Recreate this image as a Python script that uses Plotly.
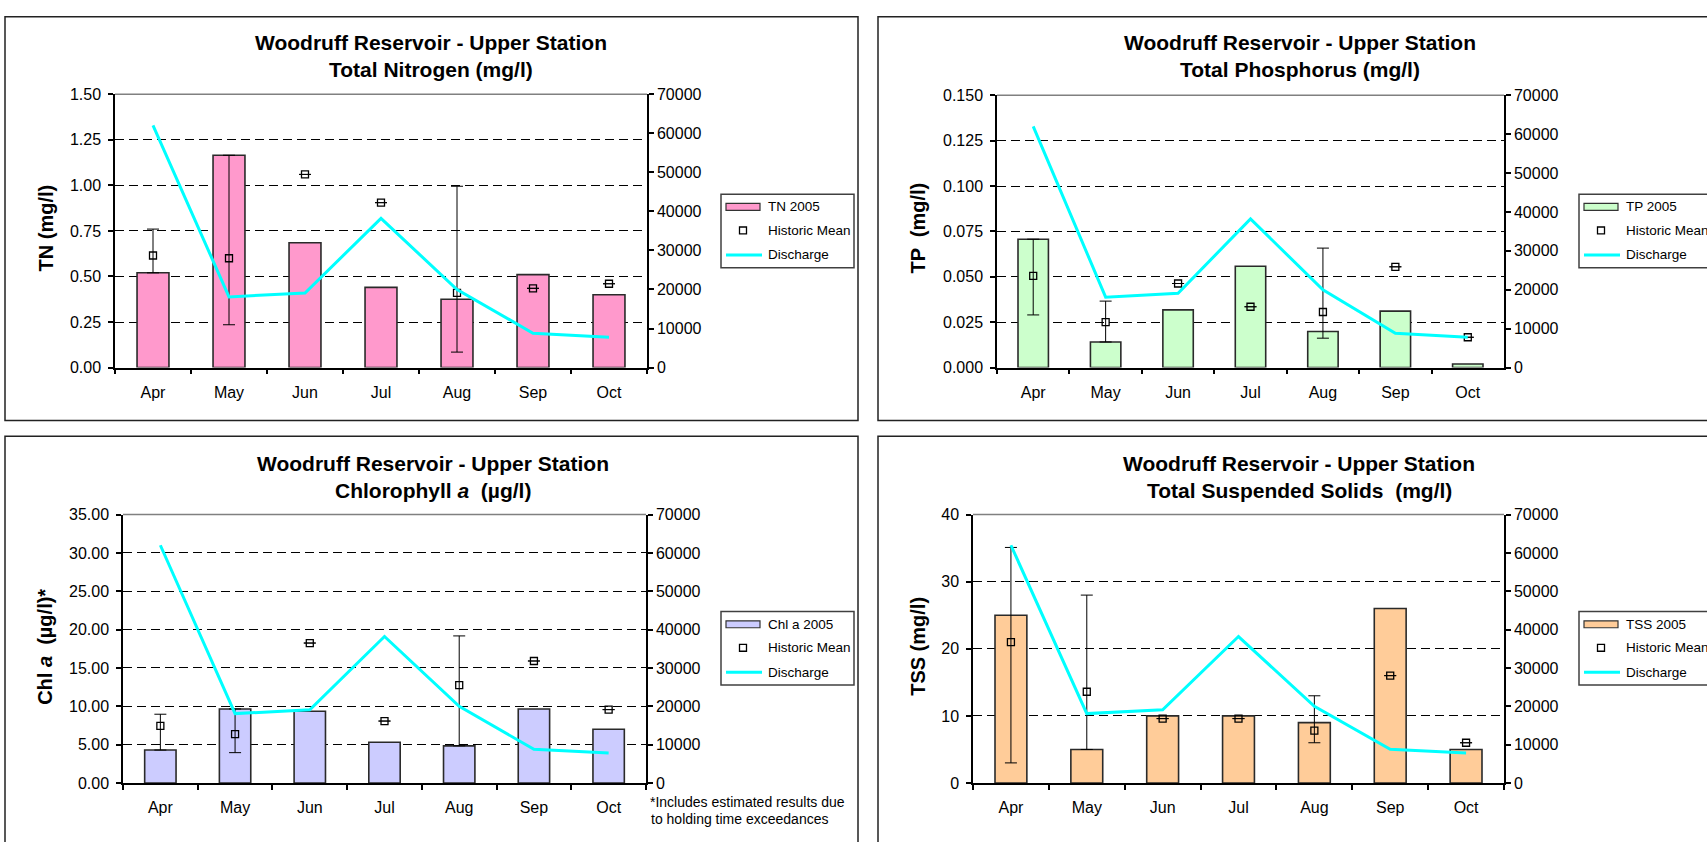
import plotly.graph_objects as go

W, H = 1707, 842
FONT = "Liberation Sans, Arial, Helvetica, sans-serif"

# ---- data -------------------------------------------------------------
months = ["Apr", "May", "Jun", "Jul", "Aug", "Sep", "Oct"]
discharge = [62000, 18100, 19100, 38200, 20000, 8800, 7800]

tn_2005 = [0.52, 1.165, 0.685, 0.44, 0.375, 0.51, 0.40]
tn_hist_mean = [0.615, 0.60, 1.06, 0.905, 0.41, 0.435, 0.46]
tn_hist_max = [0.76, 1.165, None, None, 0.995, None, None]
tn_hist_min = [0.52, 0.235, None, None, 0.085, None, None]

tp_2005 = [0.0707, 0.0141, 0.0318, 0.0558, 0.0199, 0.0311, 0.0020]
tp_hist_mean = [0.0505, 0.0250, 0.0463, 0.0335, 0.0306, 0.0555, 0.0167]
tp_hist_max = [0.0707, 0.0366, None, None, 0.0658, None, None]
tp_hist_min = [0.0290, 0.0141, None, None, 0.0162, None, None]

chl_2005 = [4.30, 9.66, 9.36, 5.32, 4.85, 9.66, 7.02]
chl_hist_mean = [7.44, 6.38, 18.25, 8.08, 12.76, 15.91, 9.57]
chl_hist_max = [8.97, 9.66, None, None, 19.18, None, None]
chl_hist_min = [4.30, 3.96, None, None, 4.85, None, None]

tss_2005 = [25, 5, 10, 10, 9, 26, 5]
tss_hist_mean = [21.0, 13.6, 9.6, 9.6, 7.8, 16.0, 6.0]
tss_hist_max = [35.1, 28.0, None, None, 13.0, None, None]
tss_hist_min = [3.0, 5.0, None, None, 6.0, None, None]

# ---- panel configuration ---------------------------------------------
panels = [
    dict(bars=tn_2005, mean=tn_hist_mean, hi=tn_hist_max, lo=tn_hist_min,
         name="TN 2005", color="#FF99CC",
         title2="Total Nitrogen (mg/l)", ytitle="TN (mg/l)",
         ymax=1.5, dtick=0.25, fmt=".2f",
         plot=(115, 647, 88, 367), frame=(5, 858, 9, 421),
         title_x=431, title_y=(35, 63), ytitle_xy=(46, 225), legend=(721, 190)),
    dict(bars=tp_2005, mean=tp_hist_mean, hi=tp_hist_max, lo=tp_hist_min,
         name="TP 2005", color="#CCFFCC",
         title2="Total Phosphorus (mg/l)", ytitle="TP  (mg/l)",
         ymax=0.15, dtick=0.025, fmt=".3f",
         plot=(997, 1504, 89, 367), frame=(878, 1722, 9, 421),
         title_x=1300, title_y=(35, 63), ytitle_xy=(918, 225), legend=(1579, 190)),
    dict(bars=chl_2005, mean=chl_hist_mean, hi=chl_hist_max, lo=chl_hist_min,
         name="Chl a 2005", color="#CCCCFF",
         title2="Chlorophyll <i>a</i>  (µg/l)", ytitle="Chl <i>a</i>  (µg/l)*",
         ymax=35, dtick=5, fmt=".2f",
         plot=(123, 646, 517, 791), frame=(5, 858, 437, 880),
         title_x=433, title_y=(465, 492), ytitle_xy=(45, 652), legend=(721, 616)),
    dict(bars=tss_2005, mean=tss_hist_mean, hi=tss_hist_max, lo=tss_hist_min,
         name="TSS 2005", color="#FFCC99",
         title2="Total Suspended Solids\u00a0 (mg/l)", ytitle="TSS (mg/l)",
         ymax=40, dtick=10, fmt="d",
         plot=(973, 1504, 517, 791), frame=(878, 1722, 437, 880),
         title_x=1299, title_y=(465, 492), ytitle_xy=(918, 652), legend=(1579, 616)),
]


def px(x):
    return x / W


def py(y):
    return 1 - y / H


fig = go.Figure()
layout = {}
shapes = []
annotations = []


def text(x, y, s, size, bold=False, xanchor="center", angle=0):
    if bold:
        s = "<b>" + s + "</b>"
    annotations.append(dict(
        x=px(x), y=py(y), xref="paper", yref="paper", text=s, showarrow=False,
        xanchor=xanchor, yanchor="middle", textangle=angle,
        font=dict(family=FONT, size=size, color="black")))


for i, p in enumerate(panels):
    xi = i + 1
    xname = "x" if xi == 1 else f"x{xi}"
    yl, yr, yt = 3 * i + 1, 3 * i + 2, 3 * i + 3
    ylname = "y" if yl == 1 else f"y{yl}"
    yrname = f"y{yr}"
    x0, x1, t, b = p["plot"]

    # 2005 values as bars
    fig.add_trace(go.Bar(
        x=months, y=p["bars"], name=p["name"], width=0.42,
        marker=dict(color=p["color"], line=dict(color="#2a2a2a", width=1.6)),
        xaxis=xname, yaxis=ylname, showlegend=False))

    # historic mean with its historic range
    up = [None if h is None else h - m for h, m in zip(p["hi"], p["mean"])]
    dn = [None if l is None else m - l for l, m in zip(p["lo"], p["mean"])]
    fig.add_trace(go.Scatter(
        x=months, y=p["mean"], name="Historic Mean", mode="markers",
        marker=dict(symbol="square-open", size=7, color="black",
                    line=dict(color="black", width=1.3)),
        error_y=dict(type="data", symmetric=False, array=up, arrayminus=dn,
                     color="black", thickness=1, width=6),
        xaxis=xname, yaxis=ylname, showlegend=False))

    # discharge on the secondary axis
    fig.add_trace(go.Scatter(
        x=months, y=discharge, name="Discharge", mode="lines",
        line=dict(color="#00FFFF", width=3),
        xaxis=xname, yaxis=yrname, showlegend=False))

    xkey = "xaxis" if xi == 1 else f"xaxis{xi}"
    layout[xkey] = dict(
        domain=[px(x0), px(x1)], anchor=ylname, type="category",
        categoryorder="array", categoryarray=months, range=[-0.5, 6.5],
        tickson="boundaries", ticks="outside", ticklen=5, tickwidth=1.5,
        tickcolor="black", showline=True, linecolor="black", linewidth=1.5,
        showgrid=False, ticklabelstandoff=9,
        tickfont=dict(family=FONT, size=16, color="black"))
    ylkey = "yaxis" if yl == 1 else f"yaxis{yl}"
    layout[ylkey] = dict(
        domain=[py(b), py(t)], anchor=xname, range=[0, p["ymax"]],
        tick0=0, dtick=p["dtick"], tickformat=p["fmt"],
        showgrid=True, gridcolor="black", gridwidth=1, griddash="9px,5px",
        zeroline=False, showline=True, linecolor="black", linewidth=1.5,
        ticks="outside", ticklen=5, tickwidth=1.5, tickcolor="black",
        ticklabelstandoff=4,
        tickfont=dict(family=FONT, size=16, color="black"))
    layout[f"yaxis{yr}"] = dict(
        overlaying=ylname, side="right", anchor=xname, range=[0, 70000],
        tick0=0, dtick=10000, tickformat="d", showgrid=False, zeroline=False,
        showline=True, linecolor="black", linewidth=1.5,
        ticks="outside", ticklen=5, tickwidth=1.5, tickcolor="black",
        tickfont=dict(family=FONT, size=16, color="black"))
    layout[f"yaxis{yt}"] = dict(
        overlaying=ylname, side="right", anchor=xname, range=[0, 70000],
        tick0=0, dtick=10000, showgrid=False, zeroline=False, showline=False,
        ticks="inside", ticklen=5, tickwidth=1.5, tickcolor="black",
        showticklabels=False)

    # chart frame and plot-area top edge
    fx0, fx1, fy0, fy1 = p["frame"]
    shapes.append(dict(type="rect", xref="paper", yref="paper",
                       x0=px(fx0), x1=px(fx1), y0=py(fy1), y1=py(fy0),
                       line=dict(color="#222222", width=1.5), layer="above"))
    shapes.append(dict(type="line", xref="paper", yref="paper",
                       x0=px(x0), x1=px(x1), y0=py(t), y1=py(t),
                       line=dict(color="#808080", width=1.5), layer="above"))

    # titles
    text(p["title_x"], p["title_y"][0], "Woodruff Reservoir - Upper Station", 21, bold=True)
    text(p["title_x"], p["title_y"][1], p["title2"], 21, bold=True)
    text(p["ytitle_xy"][0], p["ytitle_xy"][1], p["ytitle"], 20, bold=True, angle=-90)

    # legend box
    L, T = p["legend"]
    shapes.append(dict(type="rect", xref="paper", yref="paper",
                       x0=px(L), x1=px(L + 133), y0=py(T + 75), y1=py(T),
                       line=dict(color="#404040", width=1.5), fillcolor="white",
                       layer="above"))
    shapes.append(dict(type="rect", xref="paper", yref="paper",
                       x0=px(L + 5), x1=px(L + 39), y0=py(T + 16.5), y1=py(T + 9.5),
                       line=dict(color="#333333", width=1.2), fillcolor=p["color"],
                       layer="above"))
    shapes.append(dict(type="rect", xref="paper", yref="paper",
                       x0=px(L + 18.5), x1=px(L + 25.5), y0=py(T + 40.5), y1=py(T + 33.5),
                       line=dict(color="black", width=1.3), layer="above"))
    shapes.append(dict(type="line", xref="paper", yref="paper",
                       x0=px(L + 5), x1=px(L + 41), y0=py(T + 62), y1=py(T + 62),
                       line=dict(color="#00FFFF", width=3), layer="above"))
    text(L + 45, T + 13, p["name"], 13.5, xanchor="left")
    text(L + 45, T + 37, "Historic Mean", 13.5, xanchor="left")
    text(L + 45, T + 62, "Discharge", 13.5, xanchor="left")

# footnote under the chlorophyll chart
text(648, 810, "*Includes estimated results due", 14, xanchor="left")
text(649, 828, "to holding time exceedances", 14, xanchor="left")

fig.update_layout(
    width=W, height=H, autosize=False,
    margin=dict(l=0, r=0, t=0, b=0, pad=0),
    paper_bgcolor="white", plot_bgcolor="white",
    font=dict(family=FONT, color="black"),
    showlegend=False, bargap=0.58,
    shapes=shapes, annotations=annotations,
    **layout)

fig.write_html("out.html")
